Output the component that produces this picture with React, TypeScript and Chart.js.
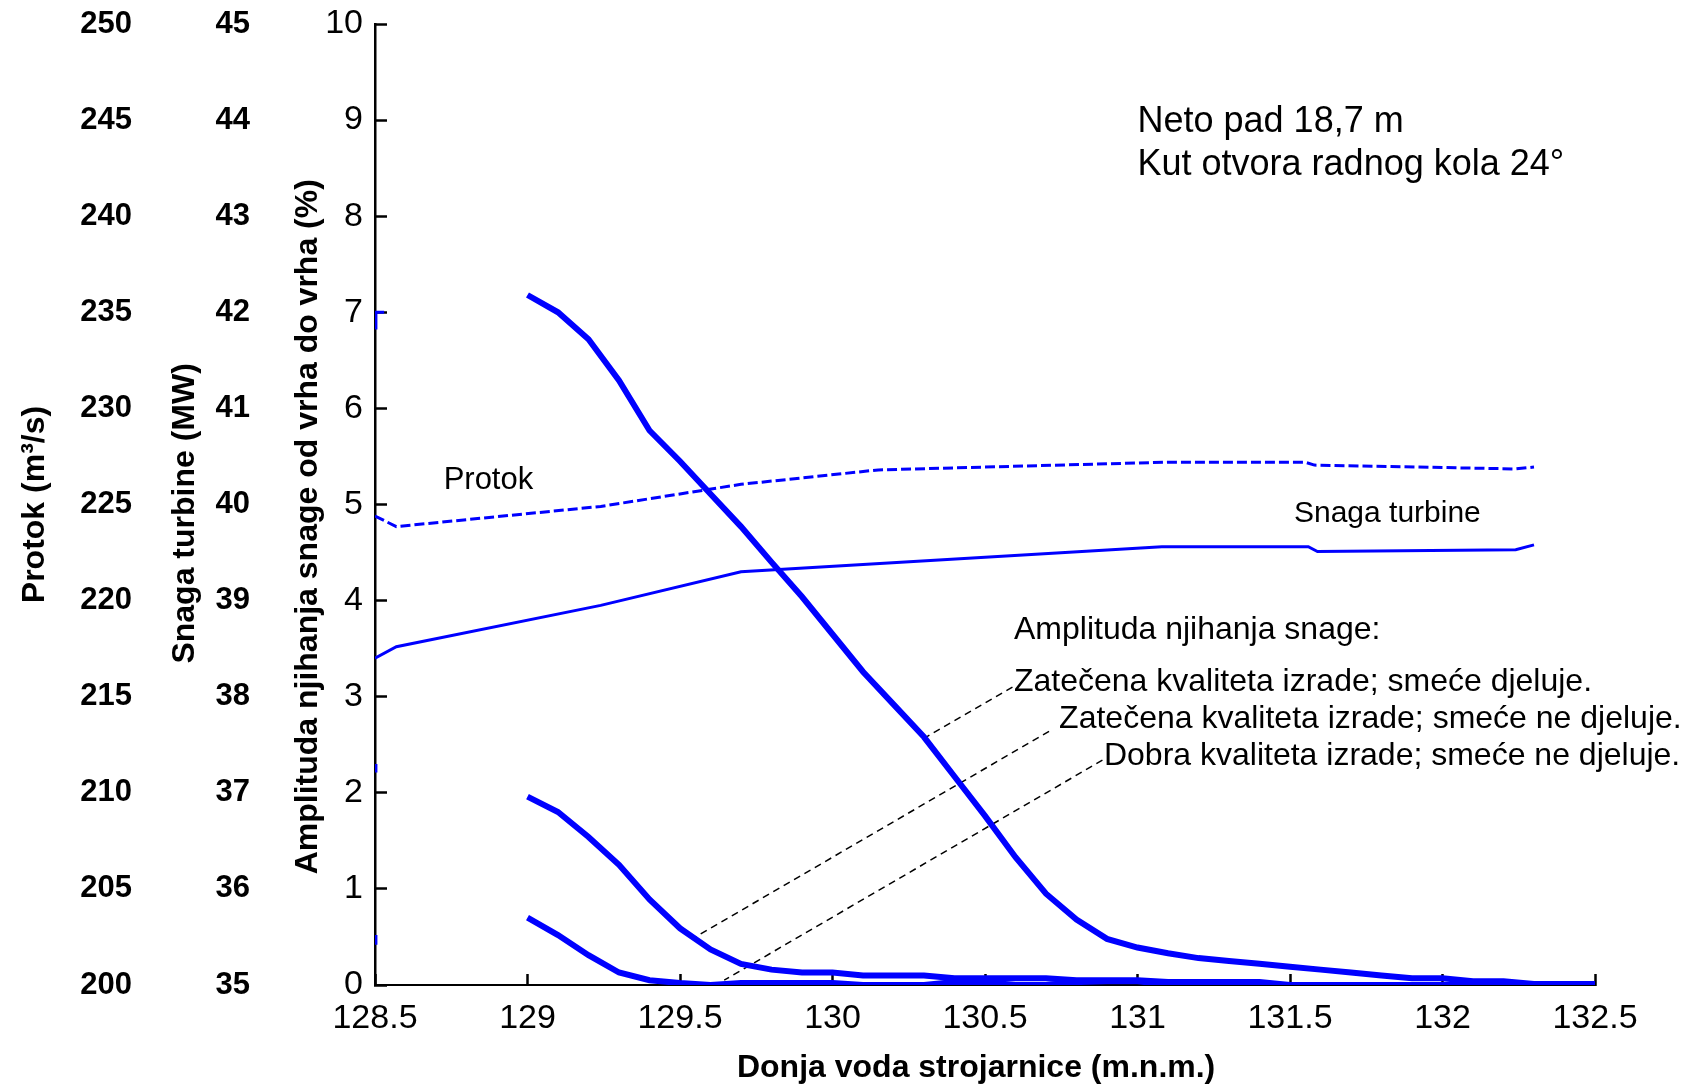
import { useEffect, useRef } from "react";
import { Chart, registerables } from "chart.js";

Chart.register(...registerables);

// Tailwater level (m a.s.l.) at which the power swing amplitude was evaluated
const levels = [
  129.0, 129.1, 129.2, 129.3, 129.4, 129.5, 129.6, 129.7, 129.8, 129.9,
  130.0, 130.1, 130.2, 130.3, 130.4, 130.5, 130.6, 130.7, 130.8, 130.9,
  131.0, 131.1, 131.2, 131.3, 131.4, 131.5, 131.6, 131.7, 131.8, 131.9,
  132.0, 132.1, 132.2, 132.3, 132.4, 132.5,
];

// Peak-to-peak power swing amplitude (%)
const ampDjeluje = [
  7.18, 7.0, 6.72, 6.29, 5.77, 5.45, 5.11, 4.77, 4.4, 4.04,
  3.65, 3.26, 2.92, 2.58, 2.17, 1.76, 1.33, 0.95, 0.68, 0.48,
  0.39, 0.33, 0.28, 0.25, 0.22, 0.19, 0.16, 0.13, 0.1, 0.07,
  0.07, 0.04, 0.04, 0.01, 0.01, 0.01,
];
const ampNeDjeluje = [
  1.96, 1.8, 1.54, 1.25, 0.89, 0.59, 0.37, 0.22, 0.16, 0.13,
  0.13, 0.1, 0.1, 0.1, 0.07, 0.07, 0.07, 0.07, 0.05, 0.05,
  0.05, 0.03, 0.03, 0.03, 0.03, 0.0, 0.0, 0.0, 0.0, 0.0,
  0.0, 0.0, 0.0, 0.0, 0.0, 0.0,
];
const ampDobra = [
  0.7, 0.52, 0.31, 0.13, 0.05, 0.02, 0.0, 0.02, 0.02, 0.02,
  0.02, 0.0, 0.0, 0.0, 0.03, 0.03, 0.0, 0.0, 0.03, 0.04,
  0.04, 0.0, 0.0, 0.0, 0.0, 0.0, 0.0, 0.0, 0.0, 0.0,
  0.0, 0.0, 0.0, 0.0, 0.0, 0.0,
];

// Discharge (m³/s)
const protokLevels = [128.5, 128.57, 129.24, 129.7, 130.15, 131.1, 131.55, 131.58, 132.24, 132.3];
const protokValues = [224.4, 223.85, 224.9, 226.05, 226.8, 227.2, 227.2, 227.05, 226.85, 226.95];

// Turbine power (MW)
const snagaLevels = [128.5, 128.57, 129.24, 129.7, 131.08, 131.56, 131.59, 132.24, 132.3];
const snagaValues = [38.4, 38.52, 38.95, 39.3, 39.56, 39.56, 39.51, 39.53, 39.58];

// Leader lines from the captions to their curves (level, %)
const leaderDjeluje = [
  { x: 130.59, y: 3.1 },
  { x: 130.31, y: 2.585 },
];
const leaderNeDjeluje = [
  { x: 130.71, y: 2.64 },
  { x: 129.54, y: 0.48 },
];
const leaderDobra = [
  { x: 130.885, y: 2.34 },
  { x: 129.645, y: 0.05 },
];

// Short blue marks sitting on the left axis
const edgeMarkA = [
  { x: 128.503, y: 6.82 },
  { x: 128.503, y: 7.0 },
  { x: 128.53, y: 7.0 },
];
const edgeMarkB = [
  { x: 128.503, y: 2.3 },
  { x: 128.503, y: 2.21 },
];
const edgeMarkC = [
  { x: 128.503, y: 0.52 },
  { x: 128.503, y: 0.42 },
];

const FONT = "'Liberation Sans', Arial, Helvetica, sans-serif";
const BLUE = "#0000ff";

// Captions placed in data coordinates of the x / amplitude axes
const notes = [
  { text: "Neto pad 18,7 m", x: 131.0, y: 8.975, size: 36 },
  { text: "Kut otvora radnog kola 24°", x: 131.0, y: 8.535, size: 36 },
  { text: "Protok", x: 128.725, y: 5.255, size: 31 },
  { text: "Snaga turbine", x: 131.513, y: 4.905, size: 30 },
  { text: "Amplituda njihanja snage:", x: 130.595, y: 3.695, size: 32 },
  { text: "Zatečena kvaliteta izrade; smeće djeluje.", x: 130.595, y: 3.155, size: 32 },
  { text: "Zatečena kvaliteta izrade; smeće ne djeluje.", x: 130.743, y: 2.765, size: 32 },
  { text: "Dobra kvaliteta izrade; smeće ne djeluje.", x: 130.89, y: 2.385, size: 32 },
];

const notesPlugin = {
  id: "noteLabels",
  afterDraw(chart: any) {
    const { ctx, scales } = chart;
    ctx.save();
    ctx.fillStyle = "#000";
    ctx.textAlign = "left";
    ctx.textBaseline = "middle";
    for (const n of notes) {
      ctx.font = `${n.size}px ${FONT}`;
      ctx.fillText(n.text, scales.x.getPixelForValue(n.x), scales.y.getPixelForValue(n.y));
    }
    ctx.restore();
  },
};

const toPoints = (xs: number[], ys: number[]) => xs.map((x, i) => ({ x, y: ys[i] }));

export default function App() {
  const ref = useRef<HTMLCanvasElement>(null);

  useEffect(() => {
    const canvas = ref.current;
    if (!canvas) return;
    Chart.defaults.font.family = FONT;
    Chart.defaults.color = "#000";

    const amp = (data: { x: number; y: number }[]) => ({
      data,
      yAxisID: "y",
      borderColor: BLUE,
      borderWidth: 6,
      pointRadius: 0,
      tension: 0,
    });
    const leader = (data: { x: number; y: number }[]) => ({
      data,
      yAxisID: "y",
      borderColor: "#000",
      borderWidth: 1.5,
      borderDash: [7, 5],
      pointRadius: 0,
    });
    const mark = (data: { x: number; y: number }[]) => ({
      data,
      yAxisID: "y",
      borderColor: BLUE,
      borderWidth: 3,
      pointRadius: 0,
    });

    const chart = new Chart(canvas, {
      type: "line",
      data: {
        datasets: [
          { label: "Zatečena kvaliteta izrade; smeće djeluje.", ...amp(toPoints(levels, ampDjeluje)) },
          { label: "Zatečena kvaliteta izrade; smeće ne djeluje.", ...amp(toPoints(levels, ampNeDjeluje)) },
          { label: "Dobra kvaliteta izrade; smeće ne djeluje.", ...amp(toPoints(levels, ampDobra)) },
          {
            label: "Protok",
            data: toPoints(protokLevels, protokValues),
            yAxisID: "protok",
            borderColor: BLUE,
            borderWidth: 3,
            borderDash: [10, 4],
            pointRadius: 0,
          },
          {
            label: "Snaga turbine",
            data: toPoints(snagaLevels, snagaValues),
            yAxisID: "snaga",
            borderColor: BLUE,
            borderWidth: 3,
            pointRadius: 0,
          },
          { label: "leader1", ...leader(leaderDjeluje) },
          { label: "leader2", ...leader(leaderNeDjeluje) },
          { label: "leader3", ...leader(leaderDobra) },
          { label: "mark1", ...mark(edgeMarkA) },
          { label: "mark2", ...mark(edgeMarkB) },
          { label: "mark3", ...mark(edgeMarkC) },
        ] as any,
      },
      options: {
        responsive: false,
        animation: false,
        events: [],
        layout: { padding: { top: 24, right: 89, bottom: 0, left: 0 } },
        plugins: { legend: { display: false }, tooltip: { enabled: false } },
        scales: {
          x: {
            type: "linear",
            position: "bottom",
            min: 128.5,
            max: 132.5,
            ticks: {
              stepSize: 0.5,
              padding: 24,
              color: "#000",
              font: { size: 34 },
              maxRotation: 0,
              autoSkip: false,
              callback: (v: number | string) => String(Number(v)),
            },
            grid: {
              drawOnChartArea: false,
              drawTicks: true,
              tickLength: -11,
              tickColor: "#000",
              tickWidth: 2.5,
              color: "#000",
            },
            border: { display: true, color: "#000", width: 2 },
            title: {
              display: true,
              text: "Donja voda strojarnice (m.n.m.)  ",
              color: "#000",
              font: { size: 32, weight: "bold" },
              padding: { top: 0, bottom: -2 },
            },
            afterFit: (s: any) => {
              s.height = 100;
              s.paddingLeft = 0;
              s.paddingRight = 0;
            },
          },
          y: {
            type: "linear",
            position: "left",
            weight: 0,
            min: 0,
            max: 10,
            ticks: { stepSize: 1, padding: 24, color: "#000", font: { size: 34 } },
            grid: {
              drawOnChartArea: false,
              drawTicks: true,
              tickLength: -12,
              tickColor: "#000",
              tickWidth: 2.5,
              color: "#000",
            },
            border: { display: true, color: "#000", width: 2.5 },
            title: {
              display: true,
              text: "Amplituda njihanja snage od vrha do vrha (%)     ",
              color: "#000",
              font: { size: 32, weight: "bold" },
              padding: { top: 31, bottom: 0 },
            },
            afterFit: (s: any) => {
              s.width = 117;
              s.paddingTop = 0;
              s.paddingBottom = 0;
            },
          },
          snaga: {
            type: "linear",
            position: "left",
            weight: 1,
            min: 35,
            max: 45,
            ticks: { stepSize: 1, padding: 8, color: "#000", font: { size: 31, weight: "bold" } },
            grid: { display: false, drawTicks: false },
            border: { display: false },
            title: {
              display: true,
              text: "Snaga turbine (MW)  ",
              color: "#000",
              font: { size: 32, weight: "bold" },
              padding: { top: 26, bottom: 0 },
            },
            afterFit: (s: any) => {
              s.width = 118;
              s.paddingTop = 0;
              s.paddingBottom = 0;
            },
          },
          protok: {
            type: "linear",
            position: "left",
            weight: 2,
            min: 200,
            max: 250,
            ticks: { stepSize: 5, padding: 8, color: "#000", font: { size: 31, weight: "bold" } },
            grid: { display: false, drawTicks: false },
            border: { display: false },
            title: {
              display: true,
              text: "Protok (m³/s)",
              color: "#000",
              font: { size: 32, weight: "bold" },
              padding: { top: 16, bottom: 0 },
            },
            afterFit: (s: any) => {
              s.width = 140;
              s.paddingTop = 0;
              s.paddingBottom = 0;
            },
          },
        },
      } as any,
      plugins: [notesPlugin],
    });

    return () => chart.destroy();
  }, []);

  return (
    <div style={{ position: "fixed", left: 0, top: 0, width: 1684, height: 1085, background: "#fff" }}>
      <canvas ref={ref} width={1684} height={1085} style={{ display: "block", width: 1684, height: 1085 }} />
    </div>
  );
}
